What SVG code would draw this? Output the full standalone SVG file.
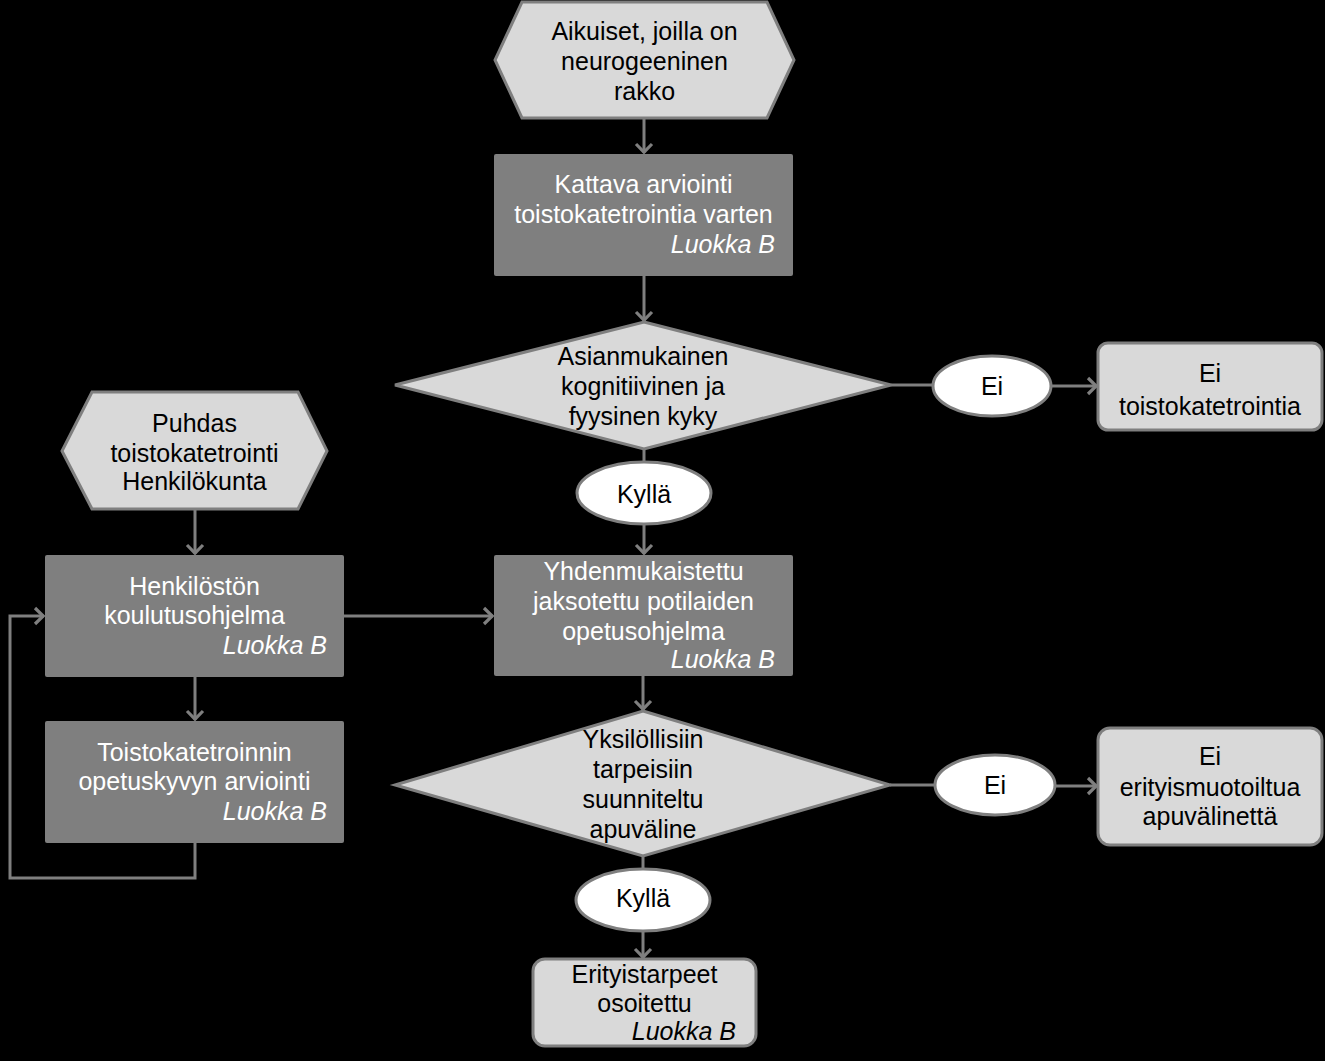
<svg xmlns="http://www.w3.org/2000/svg" width="1325" height="1061" viewBox="0 0 1325 1061">
<defs>
<style>
.t{font-family:"Liberation Sans",Arial,sans-serif;font-size:25px;text-anchor:middle}
.d{fill:#000}
.w{fill:#fff}
.i{font-style:italic;text-anchor:end}
.light{fill:#d9d9d9;stroke:#7f7f7f;stroke-width:3}
.dark{fill:#7f7f7f}
.oval{fill:#fff;stroke:#7f7f7f;stroke-width:3}
.c{fill:none;stroke:#7f7f7f;stroke-width:3}
</style>
<marker id="arr" markerUnits="userSpaceOnUse" markerWidth="22" markerHeight="22" viewBox="-11 -11 22 22" refX="0" refY="0" orient="auto">
<path d="M-9,-8 L-0.8,0 L-9,8" fill="none" stroke="#7f7f7f" stroke-width="3.2"/>
</marker>
</defs>
<rect width="1325" height="1061" fill="#000"/>
<g id="connectors">
<line class="c" x1="644" y1="118" x2="644" y2="153" marker-end="url(#arr)"/>
<line class="c" x1="644" y1="276" x2="644" y2="321" marker-end="url(#arr)"/>
<line class="c" x1="891" y1="385" x2="933" y2="385"/>
<line class="c" x1="1051" y1="386" x2="1097" y2="386" marker-end="url(#arr)"/>
<line class="c" x1="644" y1="449" x2="644" y2="462"/>
<line class="c" x1="644" y1="524" x2="644" y2="554" marker-end="url(#arr)"/>
<line class="c" x1="195" y1="509" x2="195" y2="554" marker-end="url(#arr)"/>
<line class="c" x1="344" y1="616" x2="493" y2="616" marker-end="url(#arr)"/>
<line class="c" x1="195" y1="677" x2="195" y2="720" marker-end="url(#arr)"/>
<polyline class="c" points="195,843 195,878 10,878 10,616 44,616" marker-end="url(#arr)"/>
<line class="c" x1="643" y1="676" x2="643" y2="710" marker-end="url(#arr)"/>
<line class="c" x1="643" y1="856" x2="643" y2="869"/>
<line class="c" x1="643" y1="931" x2="643" y2="958" marker-end="url(#arr)"/>
<line class="c" x1="890" y1="785" x2="935" y2="785"/>
<line class="c" x1="1055" y1="786" x2="1097" y2="786" marker-end="url(#arr)"/>
</g>
<g id="start">
<polygon class="light" points="522,2 767,2 794,60 767,118 522,118 495,60"/>
<text class="t d" x="644.5" y="40">Aikuiset, joilla on</text>
<text class="t d" x="644.5" y="70">neurogeeninen</text>
<text class="t d" x="644.5" y="100">rakko</text>
</g>
<g id="arviointi">
<rect class="dark" x="494" y="154" width="299" height="122" rx="2"/>
<text class="t w" x="643.5" y="193">Kattava arviointi</text>
<text class="t w" x="643.5" y="223">toistokatetrointia varten</text>
<text class="t w i" x="775" y="253">Luokka B</text>
</g>
<g id="kyky">
<polygon class="light" points="644,322 891,385 644,449 395,385"/>
<text class="t d" x="643" y="365">Asianmukainen</text>
<text class="t d" x="643" y="395">kognitiivinen ja</text>
<text class="t d" x="643" y="425">fyysinen kyky</text>
</g>
<g id="ei1">
<ellipse class="oval" cx="992" cy="386" rx="59" ry="30"/>
<text class="t d" x="992" y="395">Ei</text>
</g>
<g id="ei-toisto">
<rect class="light" x="1098" y="343" width="224" height="87" rx="10"/>
<text class="t d" x="1210" y="382">Ei</text>
<text class="t d" x="1210" y="415">toistokatetrointia</text>
</g>
<g id="kylla1">
<ellipse class="oval" cx="644" cy="493" rx="67" ry="31"/>
<text class="t d" x="644" y="503">Kyllä</text>
</g>
<g id="puhdas">
<polygon class="light" points="92,392 298,392 327,451 298,509 92,509 62,451"/>
<text class="t d" x="194.5" y="432">Puhdas</text>
<text class="t d" x="194.5" y="462">toistokatetrointi</text>
<text class="t d" x="194.5" y="490">Henkilökunta</text>
</g>
<g id="koulutus">
<rect class="dark" x="45" y="555" width="299" height="122" rx="2"/>
<text class="t w" x="194.5" y="595">Henkilöstön</text>
<text class="t w" x="194.5" y="624">koulutusohjelma</text>
<text class="t w i" x="327" y="654">Luokka B</text>
</g>
<g id="opetuskyky">
<rect class="dark" x="45" y="721" width="299" height="122" rx="2"/>
<text class="t w" x="194.5" y="761">Toistokatetroinnin</text>
<text class="t w" x="194.5" y="790">opetuskyvyn arviointi</text>
<text class="t w i" x="327" y="820">Luokka B</text>
</g>
<g id="opetusohjelma">
<rect class="dark" x="494" y="555" width="299" height="121" rx="2"/>
<text class="t w" x="643.5" y="580">Yhdenmukaistettu</text>
<text class="t w" x="643.5" y="610">jaksotettu potilaiden</text>
<text class="t w" x="643.5" y="640">opetusohjelma</text>
<text class="t w i" x="775" y="668">Luokka B</text>
</g>
<g id="apuvaline">
<polygon class="light" points="643,711 890,785 643,856 395,785"/>
<text class="t d" x="643" y="748">Yksilöllisiin</text>
<text class="t d" x="643" y="778">tarpeisiin</text>
<text class="t d" x="643" y="808">suunniteltu</text>
<text class="t d" x="643" y="838">apuväline</text>
</g>
<g id="ei2">
<ellipse class="oval" cx="995" cy="785" rx="60" ry="30"/>
<text class="t d" x="995" y="794">Ei</text>
</g>
<g id="ei-apuvaline">
<rect class="light" x="1098" y="728" width="224" height="117" rx="12"/>
<text class="t d" x="1210" y="765">Ei</text>
<text class="t d" x="1210" y="796">erityismuotoiltua</text>
<text class="t d" x="1210" y="825">apuvälinettä</text>
</g>
<g id="kylla2">
<ellipse class="oval" cx="643" cy="900" rx="67" ry="31"/>
<text class="t d" x="643" y="907">Kyllä</text>
</g>
<g id="erityistarpeet">
<rect class="light" x="533" y="959" width="223" height="87" rx="12"/>
<text class="t d" x="644.5" y="983">Erityistarpeet</text>
<text class="t d" x="644.5" y="1012">osoitettu</text>
<text class="t d i" x="736" y="1040">Luokka B</text>
</g>
</svg>
